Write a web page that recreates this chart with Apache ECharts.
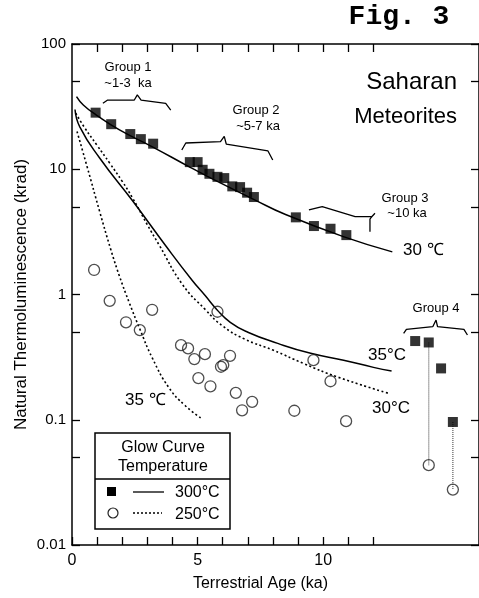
<!DOCTYPE html>
<html><head><meta charset="utf-8">
<script src="https://cdn.jsdelivr.net/npm/echarts@6/dist/echarts.min.js"></script>
<style>html,body{margin:0;padding:0;background:#fff}#c{width:479px;height:598px}</style>
</head><body><div id="c"></div><script>
// ---- axis ticks / labels ----
const xTickValues = [0,1,2,3,4,5,6,7,8,9,10,11,12];
const xTopTickValues = [1,2,3,4,5,6,7,8,9,10,11,12];
const xLabelValues = [0,5,10];
const yTickValues = [0.01,0.05,0.1,0.5,1,5,10,50,100];
const yLabelValues = [0.01,0.1,1,10,100];

// ---- data: 300 °C (filled squares) ----
const squares300 = [[0.94,28.3],[1.56,22.9],[2.32,19.1],[2.74,17.4],[3.23,16.0],
  [4.69,11.4],[5.0,11.4],[5.2,9.9],[5.47,9.2],[5.79,8.7],[6.06,8.5],[6.38,7.3],[6.69,7.2],[6.97,6.5],[7.24,6.0],
  [8.91,4.13],[9.63,3.52],[10.29,3.35],[10.92,2.98],
  [13.66,0.425],[14.2,0.414],[14.69,0.257],[15.16,0.096]];
// ---- data: 250 °C (open circles) ----
const circles250 = [[0.88,1.57],[1.5,0.89],[2.15,0.60],[2.7,0.52],[3.19,0.755],[4.34,0.394],[4.62,0.371],
  [4.87,0.305],[5.03,0.215],[5.29,0.334],[5.51,0.185],[5.79,0.728],[5.93,0.265],[6.02,0.273],[6.29,0.324],
  [6.52,0.164],[6.77,0.119],[7.17,0.139],[8.85,0.118],[9.61,0.299],[10.29,0.203],[10.91,0.0975],
  [14.2,0.0434],[15.16,0.0277]];
// ---- Group 4 pairs (same meteorite at 300 / 250 °C) ----
const pairA = [[14.2,0.414],[14.2,0.0434]];
const pairB = [[15.16,0.096],[15.16,0.0277]];
// ---- model curves ----
const curve300at30 = [[0.18,38],[0.45,32.6],[0.97,27.1],[1.89,20.6],[3.2,15.1],[4.65,10.5],[5.43,8.7],
  [7.27,5.7],[8.5,4.35],[10.8,2.9],[12.75,2.19]];
const curve300at35 = [[0.12,30],[0.31,21.8],[1.1,12.3],[2.41,5.6],[3.73,2.45],[4.78,1.3],[5.3,0.98],
  [5.76,0.76],[6.3,0.6],[7.0,0.5],[8.19,0.407],[9.5,0.339],[10.81,0.299],[12.0,0.262],[12.72,0.245]];
const curve250at30 = [[0.15,28],[0.5,21.5],[1.0,15.5],[1.5,11.2],[2.0,8.0],[2.41,5.9],[3.0,3.6],[3.46,2.5],
  [4.4,1.2],[5.3,0.76],[6.0,0.56],[6.88,0.44],[8.0,0.36],[9.24,0.28],[10.55,0.22],[12.58,0.163]];
const curve250at35 = [[0.2,20],[0.6,10.5],[1.1,4.6],[1.54,2.3],[1.89,1.4],[2.28,0.86],[2.7,0.53],[3.2,0.31],
  [3.86,0.18],[4.5,0.13],[5.17,0.102]];
// ---- group braces (annotation, data units) ----
const brace1 = [[1.23,33.6],[1.42,35.7],[2.48,35.7],[2.60,39.2],[2.75,35.7],[3.73,33.6],[3.93,29.7]];
const brace2 = [[4.37,14.25],[4.53,16.2],[5.91,16.6],[6.06,18.3],[6.14,15.9],[7.80,14.0],[7.99,11.85]];
const brace3 = [[9.43,4.73],[9.96,5.03],[11.27,4.18],[11.93,4.18],[12.06,4.45]];
const brace3hook = [[11.93,4.18],[11.86,4.0],[11.86,3.17]];
const brace4 = [[13.2,0.49],[13.31,0.527],[14.36,0.553],[14.49,0.625],[14.55,0.553],[15.6,0.527],[15.74,0.475]];

const FONT = '"Liberation Sans", Arial, sans-serif';
const chart = echarts.init(document.getElementById('c'), null, {renderer:'canvas'});

function curve(data, dotted){
  return {type:'line', data, smooth:0.5, symbol:'none', silent:true, z:2,
    lineStyle:{color:'#000', width: dotted?1.6:1.5, type: dotted?[2,2.5]:'solid'}};
}
function brace(data){
  return {type:'line', data, symbol:'none', silent:true, z:2,
    lineStyle:{color:'#000', width:1.3}};
}
function connector(data){
  return {type:'line', data, symbol:'none', silent:true, z:1,
    lineStyle:{color:'#555', width:1.2, type:[1,1]}};
}
const yFmt = v => v >= 1 ? String(Math.round(v)) : String(+(+v).toPrecision(2));

const tickStyle = {show:true, inside:true, length:8, lineStyle:{color:'#000', width:1.3}};
const lineStyle = {color:'#000', width:1.5};

const txt = (x,y,text,size,opts={}) => ({type:'text', x, y, silent:true,
  style:Object.assign({text, fill:'#000', font:`${opts.weight||'normal'} ${size}px ${opts.family||FONT}`,
  textAlign:opts.align||'center', textVerticalAlign:'middle'}, opts.style||{})});

chart.setOption({
  animation:false,
  backgroundColor:'#fff',
  grid:{left:72, right:-4, top:44, bottom:53, containLabel:false},
  xAxis:[{
    type:'value', min:0, max:16.2, position:'bottom',
    axisLine:{show:true, onZero:false, lineStyle},
    axisTick:Object.assign({customValues:xTickValues}, tickStyle),
    axisLabel:{customValues:xLabelValues, fontSize:16, color:'#000', margin:8, fontFamily:FONT},
    splitLine:{show:false},
    name:'Terrestrial Age (ka)', nameLocation:'middle', nameGap:31, nameMoveOverlap:false,
    nameTextStyle:{fontSize:16, color:'#000', fontFamily:FONT, padding:[0,30,0,0]}
  },{
    type:'value', min:0, max:16.2, position:'top',
    axisLine:{show:true, onZero:false, lineStyle},
    axisTick:Object.assign({customValues:xTopTickValues}, tickStyle),
    axisLabel:{show:false}, splitLine:{show:false}
  }],
  yAxis:[{
    type:'log', logBase:10, min:0.01, max:100, position:'left',
    axisLine:{show:true, onZero:false, lineStyle},
    axisTick:Object.assign({customValues:yTickValues}, tickStyle),
    axisLabel:{customValues:yLabelValues, formatter:yFmt, fontSize:15, color:'#000', margin:6, fontFamily:FONT},
    splitLine:{show:false}, minorTick:{show:false},
    name:'Natural Thermoluminescence (krad)', nameLocation:'middle', nameGap:42, nameMoveOverlap:false,
    nameTextStyle:{fontSize:17, color:'#000', fontFamily:FONT}
  },{
    type:'log', logBase:10, min:0.01, max:100, position:'right',
    axisLine:{show:true, onZero:false, lineStyle},
    axisTick:Object.assign({customValues:yTickValues}, tickStyle),
    axisLabel:{show:false}, splitLine:{show:false}
  }],
  series:[
    curve(curve300at30,false),
    curve(curve300at35,false),
    curve(curve250at30,true),
    curve(curve250at35,true),
    brace(brace1), brace(brace2), brace(brace3), brace(brace3hook), brace(brace4),
    connector(pairA), connector(pairB),
    {type:'scatter', data:squares300, symbol:'rect', symbolSize:10, z:3,
      itemStyle:{color:'#000'}},
    {type:'scatter', data:circles250, symbol:'circle', symbolSize:11, z:3,
      itemStyle:{color:'rgba(0,0,0,0)', borderColor:'#222', borderWidth:1.3}}
  ],
  graphic:[
    txt(399,17,'Fig. 3',28,{weight:'bold', family:'"Liberation Mono", "DejaVu Sans Mono", monospace'}),
    txt(457,82,'Saharan',24,{align:'right'}),
    txt(457,117,'Meteorites',22,{align:'right'}),
    txt(128,67,'Group 1',13),
    txt(128,83,'~1-3  ka',13),
    txt(256,110,'Group 2',13),
    txt(258,126,'~5-7 ka',13),
    txt(405,198,'Group 3',13),
    txt(407,213,'~10 ka',13),
    txt(436,308,'Group 4',13),
    txt(403,250,'30 ℃',17,{align:'left'}),
    txt(368,355,'35°C',17,{align:'left'}),
    txt(372,408,'30°C',17,{align:'left'}),
    txt(125,400,'35 ℃',17,{align:'left'}),
    // legend box
    {type:'rect', shape:{x:95, y:433, width:135, height:96}, silent:true,
      style:{fill:'#fff', stroke:'#000', lineWidth:1.5}, z:10},
    {type:'line', shape:{x1:95, y1:479, x2:230, y2:479}, silent:true, style:{stroke:'#000', lineWidth:1.3}, z:11},
    Object.assign(txt(163,448,'Glow Curve',16),{z:11}),
    Object.assign(txt(163,467,'Temperature',16),{z:11}),
    {type:'rect', shape:{x:107, y:487, width:9, height:9}, silent:true, style:{fill:'#000'}, z:11},
    {type:'line', shape:{x1:133, y1:492, x2:164, y2:492}, silent:true, style:{stroke:'#000', lineWidth:1.3}, z:11},
    Object.assign(txt(175,493,'300°C',16,{align:'left'}),{z:11}),
    {type:'circle', shape:{cx:113, cy:513, r:5}, silent:true, style:{fill:'#fff', stroke:'#222', lineWidth:1.2}, z:11},
    {type:'line', shape:{x1:133, y1:513, x2:162, y2:513}, silent:true, style:{stroke:'#000', lineWidth:1.3, lineDash:[2,2]}, z:11},
    Object.assign(txt(175,515,'250°C',16,{align:'left'}),{z:11})
  ]
});
</script></body></html>
